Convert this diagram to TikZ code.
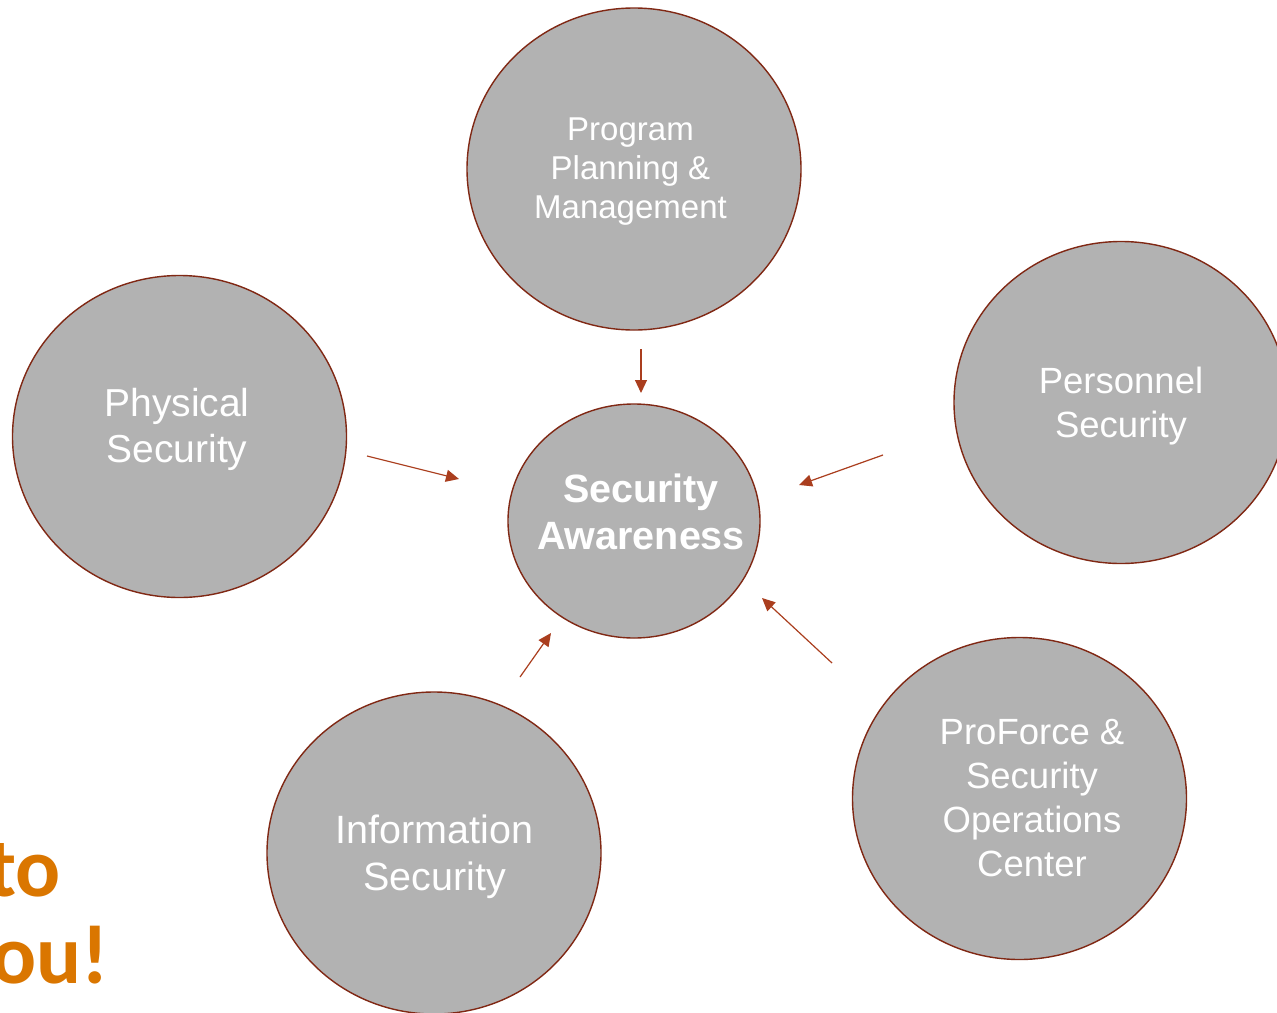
\documentclass[tikz,border=0pt]{standalone}
\usepackage{fontspec}
\setmainfont{Liberation Sans}
\newfontfamily\headfont{Carlito}
\usetikzlibrary{%
    arrows.meta,
    calc,
    positioning,
    shapes.geometric
}
\definecolor{bubblegray}{RGB}{178,178,178}
\definecolor{rimbrown}{RGB}{128,40,20}
\definecolor{feedred}{RGB}{170,62,30}
\definecolor{slideorange}{RGB}{218,118,0}
\tikzset{headarrow/.style = {-{Triangle[length=13pt,width=12pt]}}}
\tikzset{feed/.style = {draw=feedred,line width=1.2pt,headarrow}}
\tikzset{bubble/.style = {ellipse,draw=rimbrown,fill=bubblegray,line width=1.4pt,
    minimum width=334pt,minimum height=322pt,inner sep=0pt}}
\tikzset{bubbletext/.style = {text=white,align=center,inner sep=0pt}}

\begin{document}
\begin{tikzpicture}[x=1pt,y=-1pt]
    \clip (0,0) rectangle (1277,1012);
    \fill[white] (0,0) rectangle (1277,1012);

    \node (to) [anchor=base east,text=slideorange,font=\headfont\bfseries\fontsize{84}{84}\selectfont,inner sep=0pt] at (61,896) {to};
    \node (you) [anchor=base east,text=slideorange,font=\headfont\bfseries\fontsize{84}{84}\selectfont,inner sep=0pt] at (109,983) {ou!};

    \node (plan) [bubble] at (634,169) {};
    \node (phys) [bubble] at (179.5,436.5) {};
    \node (pers) [bubble] at (1121,402.5) {};
    \node (info) [bubble] at (434,853) {};
    \node (pro) [bubble] at (1019.5,798.5) {};
    \node (aware) [bubble,minimum width=252pt,minimum height=234pt] at (634,521) {};

    \node (plantext) [bubbletext,font=\fontsize{33}{39}\selectfont] at ($(plan)+(-3.5,3)$) {Program\\Planning \&\\Management};
    \node (phystext) [bubbletext,font=\fontsize{39}{46}\selectfont] at ($(phys)+(-2.5,-7.5)$) {Physical\\Security};
    \node (perstext) [bubbletext,font=\fontsize{36.5}{44}\selectfont] at ($(pers)+(0,4)$) {Personnel\\Security};
    \node (infotext) [bubbletext,font=\fontsize{39.5}{47}\selectfont] at ($(info)+(0.5,4)$) {Information\\Security};
    \node (protext) [bubbletext,font=\fontsize{36.5}{44}\selectfont] at ($(pro)+(12.5,-0.5)$) {ProForce \&\\Security\\Operations\\Center};
    \node (awaretext) [bubbletext,font=\bfseries\fontsize{39.5}{47}\selectfont] at ($(aware)+(7,-9)$) {Security\\Awareness};

    \coordinate (plan-out) at (641,349);
    \coordinate (aware-n) at (641,393);
    \coordinate (phys-out) at (367,456);
    \coordinate (aware-w) at (459,479);
    \coordinate (pers-out) at (883,455);
    \coordinate (aware-e) at (799,485);
    \coordinate (info-out) at (520,677);
    \coordinate (aware-sw) at (551,633);
    \coordinate (pro-out) at (832,663);
    \coordinate (aware-se) at (762,598);

    \foreach \Source/\Target in {plan-out/aware-n, phys-out/aware-w, pers-out/aware-e,
        info-out/aware-sw, pro-out/aware-se}
        \draw[feed] (\Source) to (\Target);
\end{tikzpicture}
\end{document}
